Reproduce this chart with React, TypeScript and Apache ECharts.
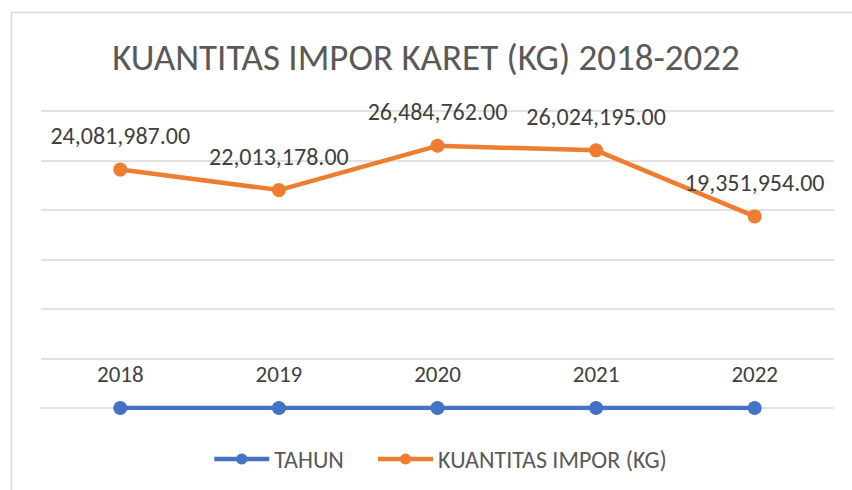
import React, { useEffect, useRef } from "react";
import * as echarts from "echarts";

const categories = ["2018", "2019", "2020", "2021", "2022"];
const tahun = [2018, 2019, 2020, 2021, 2022];
const kuantitas = [24081987, 22013178, 26484762, 26024195, 19351954];
const seriesNames = ["TAHUN", "KUANTITAS IMPOR (KG)"];
const titleText = "KUANTITAS IMPOR KARET (KG) 2018-2022";

const FONT = 'Carlito, "Liberation Sans Narrow", "Open Sans", sans-serif';
const TEXT = "#595959";

export default function App() {
  const ref = useRef<HTMLDivElement>(null);
  useEffect(() => {
    if (!ref.current) return;
    const chart = echarts.init(ref.current, undefined, { renderer: "svg" });
    const fmt = (v: number) =>
      v.toLocaleString("en-US", { minimumFractionDigits: 2, maximumFractionDigits: 2 });
    chart.setOption({
      animation: false,
      backgroundColor: "#ffffff",
      title: {
        text: titleText,
        left: "center",
        top: 34,
        textStyle: { fontFamily: FONT, fontSize: 37, fontWeight: "normal", color: TEXT },
      },
      graphic: [
        {
          type: "rect",
          shape: { x: 11.5, y: 12.5, width: 900, height: 600 },
          style: { fill: "none", stroke: "#D9D9D9", lineWidth: 1.5 },
          silent: true,
          z: -1,
        },
      ],
      legend: {
        data: seriesNames,
        bottom: 14,
        left: 207,
        itemWidth: 55,
        itemHeight: 14,
        itemGap: 32,
        lineStyle: { width: 4.5 },
        textStyle: { fontFamily: FONT, fontSize: 24, color: TEXT },
      },
      grid: { left: 41, right: 18, top: 111, bottom: 82 },
      xAxis: {
        type: "category",
        data: categories,
        axisLine: { show: false },
        axisTick: { show: false },
        axisLabel: { show: false },
      },
      yAxis: {
        type: "value",
        min: 0,
        max: 30000000,
        interval: 5000000,
        axisLabel: { show: false },
        axisLine: { show: false },
        axisTick: { show: false },
        splitLine: { lineStyle: { color: "#D9D9D9", width: 1.5 } },
      },
      series: [
        {
          name: seriesNames[0],
          type: "line",
          data: tahun,
          color: "#4472C4",
          lineStyle: { width: 4.5, color: "#4472C4" },
          symbol: "circle",
          symbolSize: 14,
          itemStyle: { color: "#4472C4" },
          label: {
            show: true,
            position: "top",
            distance: 15,
            fontFamily: FONT,
            fontSize: 23,
            color: "#404040",
            formatter: (p: any) => String(p.value),
          },
        },
        {
          name: seriesNames[1],
          type: "line",
          data: kuantitas,
          color: "#ED7D31",
          lineStyle: { width: 4.5, color: "#ED7D31" },
          symbol: "circle",
          symbolSize: 14,
          itemStyle: { color: "#ED7D31" },
          label: {
            show: true,
            position: "top",
            distance: 15,
            fontFamily: FONT,
            fontSize: 24,
            color: "#404040",
            formatter: (p: any) => fmt(p.value),
          },
        },
      ],
    });
    return () => chart.dispose();
  }, []);
  return <div ref={ref} style={{ width: 852, height: 490, position: "absolute", left: 0, top: 0 }} />;
}
